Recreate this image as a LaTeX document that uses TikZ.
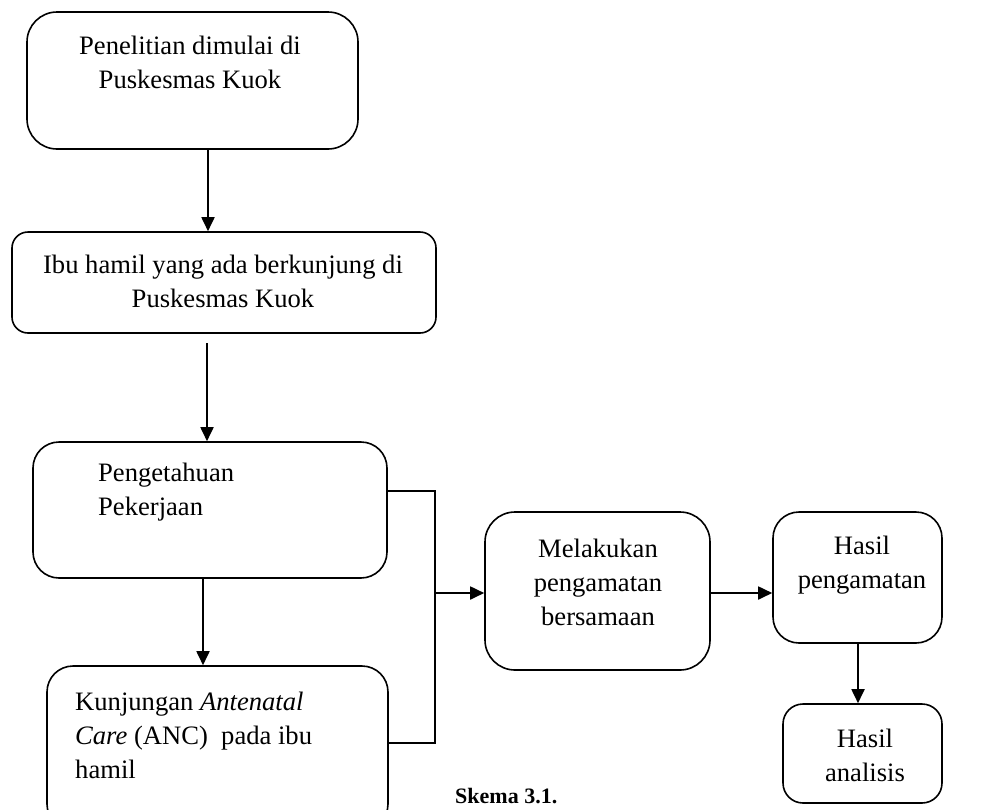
\documentclass[tikz,border=0pt]{standalone}
\usepackage{fontspec}
\setmainfont{Liberation Serif}
\usetikzlibrary{arrows.meta}
\tikzset{
  box/.style={draw, line width=1.6pt, minimum width=#1, inner sep=0pt},
  lbl/.style={inner sep=0pt, font=\fontsize{26.6}{34}\selectfont},
  arr/.style={line width=1.8pt, -{Triangle[width=13pt,length=14pt]}},
  ln/.style={line width=1.6pt},
}
\begin{document}
\begin{tikzpicture}[x=1pt,y=-1pt]
\useasboundingbox (0,0) rectangle (984,809);
% boxes
\node[box=331pt, minimum height=137pt, rounded corners=30pt] (b1) at (192.5,80.5) {};
\node[box=424pt, minimum height=101pt, rounded corners=16pt] (b2) at (224,282.5) {};
\node[box=354pt, minimum height=136pt, rounded corners=26pt] (b3) at (210,510) {};
\node[box=341pt, minimum height=164pt, rounded corners=26pt] (b4) at (217.5,748) {};
\node[box=225pt, minimum height=158pt, rounded corners=30pt] (b5) at (597.5,591) {};
\node[box=169pt, minimum height=131pt, rounded corners=26pt] (b6) at (857.5,577.5) {};
\node[box=159pt, minimum height=99pt, rounded corners=20pt] (b7) at (862.5,753.5) {};
% texts
\node[lbl, align=center] (t1) at (190,62) {Penelitian dimulai di\\Puskesmas Kuok};
\node[lbl, align=center] (t2) at (223,281) {Ibu hamil yang ada berkunjung di\\Puskesmas Kuok};
\node[lbl, align=left, anchor=west] (t3) at (98,492) {Pengetahuan\\Pekerjaan};
\node[lbl, align=left, anchor=west] (t4) at (75,735) {Kunjungan \textit{Antenatal}\\\textit{Care} (ANC)\ \ pada ibu\\hamil};
\node[lbl, align=center] (t5) at (598,582) {Melakukan\\pengamatan\\bersamaan};
\node[lbl, align=center] (t6) at (862,565) {Hasil\\pengamatan};
\node[lbl, align=center] (t7) at (865,755) {Hasil\\analisis};
\node[inner sep=0pt, anchor=base west, font=\fontsize{22}{26}\selectfont\bfseries] (cap) at (455,803) {Skema 3.1.};
% connector helpers
\coordinate (x1) at (208,0);
\coordinate (s2) at (207,343);
\coordinate (x3) at (203,0);
\coordinate (jt) at (435,491);
\coordinate (jb) at (435,743);
\coordinate (jm) at (435,593);
\coordinate (x6) at (858,0);
% connectors
\draw[arr] (b1.south -| x1) -- (b2.north -| x1);
\draw[arr] (s2) -- (b3.north -| s2);
\draw[arr] (b3.south -| x3) -- (b4.north -| x3);
\draw[ln] (b3.east |- jt) -- (jt) -- (jb) -- (b4.east |- jb);
\draw[arr] (jm) -- (b5.west |- jm);
\draw[arr] (b5.east |- jm) -- (b6.west |- jm);
\draw[arr] (b6.south -| x6) -- (b7.north -| x6);
\end{tikzpicture}
\end{document}
